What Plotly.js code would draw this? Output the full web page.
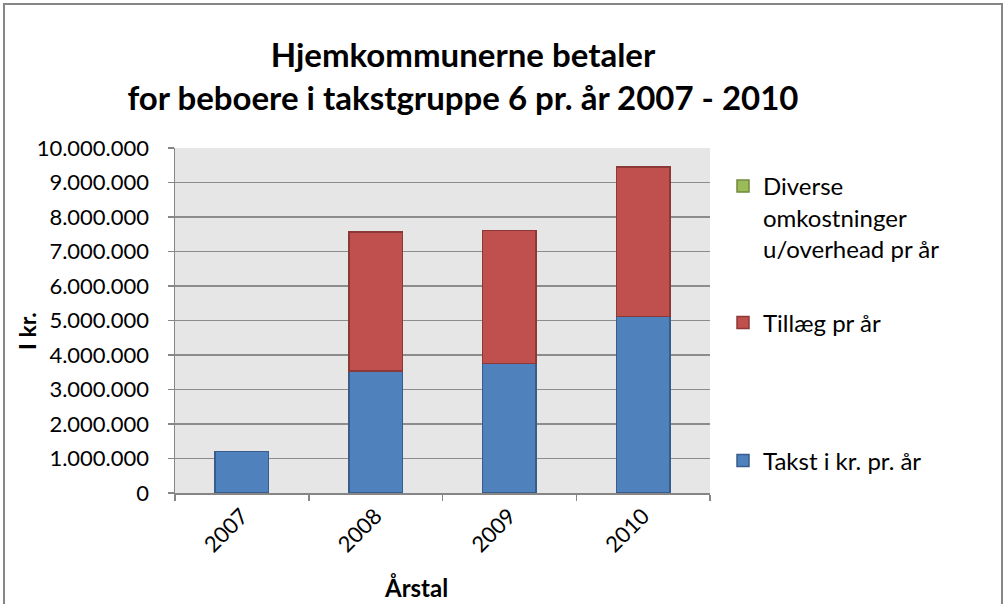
<!DOCTYPE html>
<html>
<head>
<meta charset="utf-8">
<script src="https://cdn.plot.ly/plotly-3.0.1.min.js"></script>
<style>html,body{margin:0;padding:0;background:#fff;}#chart{width:1007px;height:604px;}</style>
</head>
<body>
<div id="chart"></div>
<script>
const years = ['2007', '2008', '2009', '2010'];
const takst = [1210000, 3530000, 3755000, 5115000];
const tillaeg = [0, 4030000, 3860000, 4335000];
const diverse = [0, 0, 0, 0];
const seriesNames = ['Takst i kr. pr. år', 'Tillæg pr år', 'Diverse<br>omkostninger<br>u/overhead pr år'];
const yTicks = [0, 1000000, 2000000, 3000000, 4000000, 5000000, 6000000, 7000000, 8000000, 9000000, 10000000];
const xTitle = 'Årstal';
const yTitle = 'I kr.';

const L = 175, R = 710, T = 148, B = 493, W = 1007, H = 604;
const px = x => (x - L) / (R - L);
const py = y => (B - y) / (B - T);
const hideZero = arr => arr.map(v => (v === 0 ? null : v));

const font = 'Lato, "Open Sans", sans-serif';

const traces = [
  {type: 'bar', x: years, y: hideZero(takst), name: seriesNames[0], legend: 'legend3',
   marker: {color: '#4F81BD', line: {color: '#385D8A', width: 1.5}}},
  {type: 'bar', x: years, y: hideZero(tillaeg), name: seriesNames[1], legend: 'legend2',
   marker: {color: '#C0504D', line: {color: '#8C3836', width: 1.5}}},
  {type: 'bar', x: years, y: hideZero(diverse), name: seriesNames[2], legend: 'legend',
   marker: {color: '#9BBB59', line: {color: '#71893F', width: 1.5}}}
];

const legendBase = {font: {family: font, size: 24, color: '#000'}, bgcolor: 'rgba(0,0,0,0)', xanchor: 'left', x: px(723), itemwidth: 30};

const layout = {
  width: W, height: H,
  margin: {l: L, r: W - R, t: T, b: H - B, pad: 0},
  paper_bgcolor: '#fff',
  plot_bgcolor: '#e6e6e6',
  separators: ',.',
  barmode: 'stack',
  bargap: 0.6,
  font: {family: font, size: 22, color: '#000'},
  title: {
    text: '<b>Hjemkommunerne betaler<br>for beboere i takstgruppe 6 pr. år 2007 - 2010</b>',
    font: {family: font, size: 33, color: '#000'},
    x: 463 / W, xanchor: 'center', xref: 'container',
    y: 1 - 67 / H, yanchor: 'top', yref: 'container'
  },
  xaxis: {
    type: 'category',
    tickangle: -45,
    ticks: 'outside', ticklen: 6, tickcolor: '#868686', tickwidth: 1.5,
    tickson: 'boundaries',
    showline: true, linecolor: '#868686', linewidth: 1.5,
    showgrid: false,
    tickfont: {family: font, size: 22, color: '#000'}
  },
  yaxis: {
    range: [0, 10000000],
    tickvals: yTicks,
    tickformat: ',.0f',
    ticks: 'outside', ticklen: 6, tickcolor: '#868686', tickwidth: 1.5,
    ticklabelstandoff: 14,
    showline: true, linecolor: '#868686', linewidth: 1.5,
    showgrid: true, gridcolor: '#8c8c8c', gridwidth: 1.5,
    zeroline: false,
    tickfont: {family: font, size: 22, color: '#000'}
  },
  annotations: [
    {text: '<b>' + xTitle + '</b>', xref: 'paper', yref: 'paper', x: px(416), y: py(587),
     xanchor: 'center', yanchor: 'middle', showarrow: false, font: {family: font, size: 24, color: '#000'}},
    {text: '<b>' + yTitle + '</b>', xref: 'paper', yref: 'paper', x: px(27), y: py(331),
     xanchor: 'center', yanchor: 'middle', textangle: -90, showarrow: false, font: {family: font, size: 23, color: '#000'}}
  ],
  legend: Object.assign({}, legendBase, {y: py(164), yanchor: 'top', valign: 'top'}),
  legend2: Object.assign({}, legendBase, {y: py(323), yanchor: 'middle'}),
  legend3: Object.assign({}, legendBase, {y: py(461), yanchor: 'middle'}),
  showlegend: true,
  shapes: [{
    type: 'rect', xref: 'paper', yref: 'paper',
    x0: px(4), x1: px(1002), y0: py(620), y1: py(4),
    line: {color: '#868686', width: 2}, fillcolor: 'rgba(0,0,0,0)', layer: 'below'
  }]
};

Plotly.newPlot('chart', traces, layout, {displayModeBar: false, staticPlot: true});
</script>
</body>
</html>
